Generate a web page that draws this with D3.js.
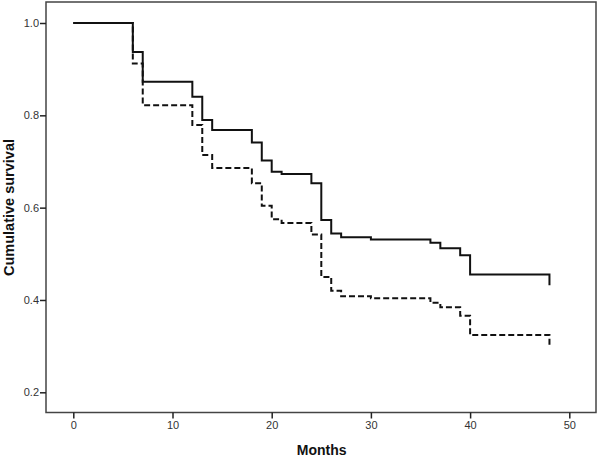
<!DOCTYPE html>
<html>
<head>
<meta charset="utf-8">
<script src="https://cdn.jsdelivr.net/npm/d3@7/dist/d3.min.js"></script>
<style>
  html, body { margin: 0; padding: 0; background: #fff; }
  svg { display: block; }
</style>
</head>
<body>
<svg id="chart" width="600" height="457"></svg>
<script>
// Data (months, cumulative survival)
const solidTimes  = [0, 6, 7, 12, 13, 14, 18, 19, 20, 21, 24, 25, 26, 27, 30, 36, 37, 39, 40, 48];
const solidSurv   = [1.0, 0.937, 0.873, 0.840, 0.790, 0.768, 0.741, 0.702, 0.678, 0.673, 0.653, 0.573, 0.544, 0.536, 0.531, 0.524, 0.512, 0.497, 0.455, 0.432];
const dashedTimes = [0, 6, 7, 12, 13, 14, 18, 19, 20, 21, 24, 25, 26, 27, 30, 36, 37, 39, 40, 48];
const dashedSurv  = [1.0, 0.912, 0.822, 0.779, 0.714, 0.686, 0.653, 0.604, 0.575, 0.567, 0.542, 0.450, 0.420, 0.408, 0.404, 0.394, 0.384, 0.366, 0.324, 0.297];
const xTicks = [0, 10, 20, 30, 40, 50];
const yTicks = [0.2, 0.4, 0.6, 0.8, 1.0];
const xLabel = "Months";
const yLabel = "Cumulative survival";

const svg = d3.select("#chart");
const frame = { left: 46, top: 2, right: 596, bottom: 412.5 };

const x = d3.scaleLinear().domain([0, 50]).range([73.3, 569.3]);
const y = d3.scaleLinear().domain([0.2, 1.0]).range([392.3, 23]);

// Frame
svg.append("rect")
  .attr("x", frame.left).attr("y", frame.top)
  .attr("width", frame.right - frame.left).attr("height", frame.bottom - frame.top)
  .attr("fill", "none").attr("stroke", "#444").attr("stroke-width", 1.5);

// Y axis
const yAxis = svg.append("g")
  .attr("transform", `translate(${frame.left},0)`)
  .call(d3.axisLeft(y).tickValues(yTicks).tickFormat(d3.format(".1f")).tickSize(6).tickPadding(1));
yAxis.select(".domain").remove();
yAxis.selectAll(".tick line").attr("stroke", "#222").attr("stroke-width", 1.5);
yAxis.selectAll(".tick text").attr("fill", "#333")
  .style("font-family", "Liberation Sans, Arial, sans-serif").style("font-size", "11px");

// X axis
const xAxis = svg.append("g")
  .attr("transform", `translate(0,${frame.bottom})`)
  .call(d3.axisBottom(x).tickValues(xTicks).tickFormat(d3.format("d")).tickSize(6).tickPadding(3));
xAxis.select(".domain").remove();
xAxis.selectAll(".tick line").attr("stroke", "#222").attr("stroke-width", 1.5);
xAxis.selectAll(".tick text").attr("fill", "#333")
  .style("font-family", "Liberation Sans, Arial, sans-serif").style("font-size", "11px");

// Axis titles
svg.append("text")
  .attr("x", 321.7).attr("y", 455)
  .attr("text-anchor", "middle")
  .style("font-family", "Liberation Sans, Arial, sans-serif")
  .style("font-size", "14px").style("font-weight", "bold")
  .attr("fill", "#111")
  .text(xLabel);

svg.append("text")
  .attr("transform", "translate(14,207.5) rotate(-90)")
  .attr("text-anchor", "middle")
  .style("font-family", "Liberation Sans, Arial, sans-serif")
  .style("font-size", "14.5px").style("font-weight", "bold")
  .attr("fill", "#111")
  .text(yLabel);

// Curves
const line = d3.line()
  .x(d => x(d[0]))
  .y(d => y(d[1]))
  .curve(d3.curveStepAfter);

const dashedData = dashedTimes.map((t, i) => [t, dashedSurv[i]]);
const solidData = solidTimes.map((t, i) => [t, solidSurv[i]]);

svg.append("path")
  .datum(dashedData)
  .attr("d", line)
  .attr("fill", "none")
  .attr("stroke", "#111")
  .attr("stroke-width", 2)
  .attr("stroke-dasharray", "6,3");

svg.append("path")
  .datum(solidData)
  .attr("d", line)
  .attr("fill", "none")
  .attr("stroke", "#111")
  .attr("stroke-width", 2);
</script>
</body>
</html>
